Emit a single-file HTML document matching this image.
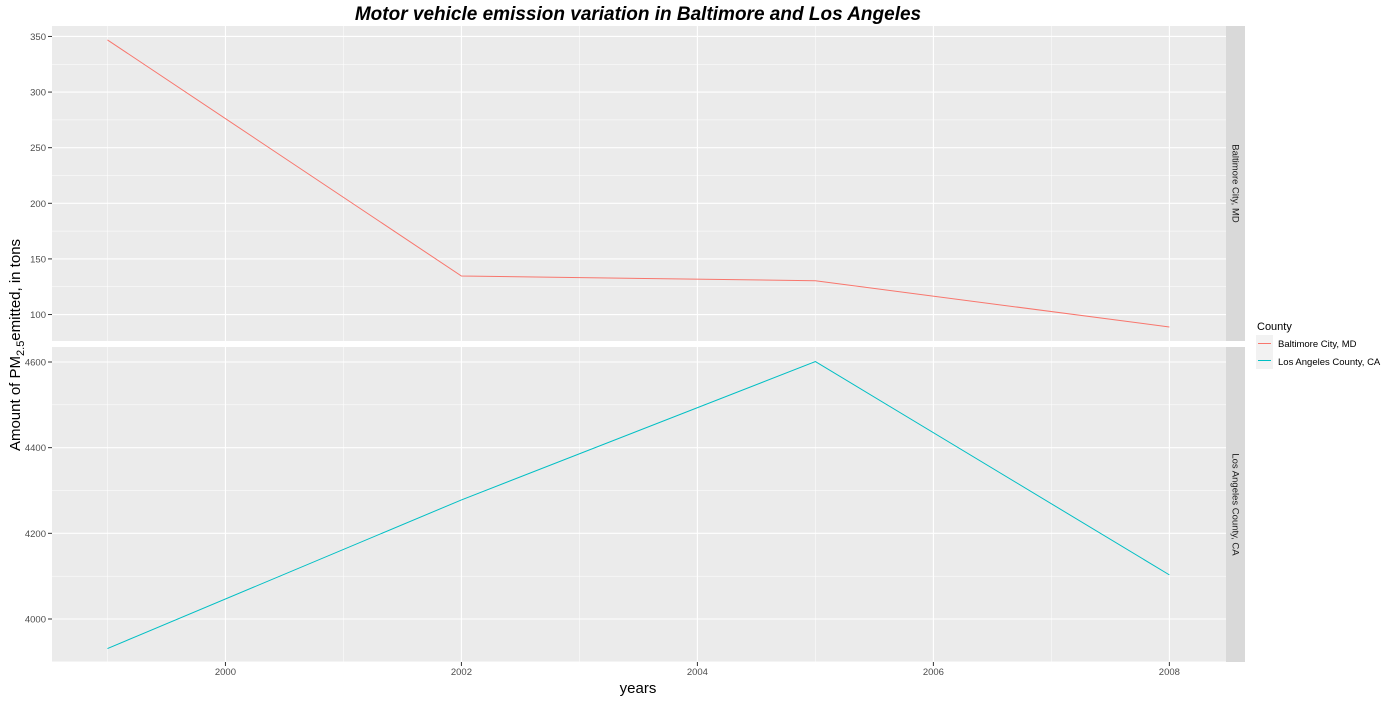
<!DOCTYPE html>
<html><head><meta charset="utf-8"><style>
body{margin:0;background:#fff;font-family:"Liberation Sans",sans-serif}
svg text{font-family:"Liberation Sans",sans-serif}
</style></head><body>
<svg id="c" width="1400" height="700">
<text x="638" y="20" text-anchor="middle" font-size="19" font-weight="bold" font-style="italic">Motor vehicle emission variation in Baltimore and Los Angeles</text>
<text x="638" y="693" text-anchor="middle" font-size="15" fill="#000">years</text>
<text transform="translate(20,345) rotate(-90)" text-anchor="middle" font-size="15">Amount of PM<tspan font-size="11" dy="4">2.5</tspan><tspan dy="-4">emitted, in tons</tspan></text>
<g id="legend">
<text x="1257" y="330" font-size="11">County</text>
<rect x="1256" y="335" width="17" height="17" fill="#f2f2f2"/>
<line x1="1258" y1="343.5" x2="1271" y2="343.5" stroke="#F8766D" stroke-width="1"/>
<text x="1278" y="347" font-size="9.5">Baltimore City, MD</text>
<rect x="1256" y="352" width="17" height="17" fill="#f2f2f2"/>
<line x1="1258" y1="360.5" x2="1271" y2="360.5" stroke="#00BFC4" stroke-width="1"/>
<text x="1278" y="365" font-size="9.5">Los Angeles County, CA</text>
</g>
</svg>
<script>
const years=[1999,2002,2005,2008];
const baltimore=[346.9,134.6,130.4,88.8];
const losAngeles=[3931,4278,4601,4103];
const xTicks=[2000,2002,2004,2006,2008];
const topTicks=[100,150,200,250,300,350];
const botTicks=[4000,4200,4400,4600];
const NS='http://www.w3.org/2000/svg';
const svg=document.getElementById('c');
const L=52,R=1226;
const x=v=>L+(v-1998.53)/(2008.48-1998.53)*(R-L);
function el(t,a,p){const e=document.createElementNS(NS,t);for(const k in a)e.setAttribute(k,a[k]);(p||svg).appendChild(e);return e;}
const panels=[
 {name:'baltimore',top:26,bot:341,min:76.2,max:359.4,ticks:topTicks,step:25,data:baltimore,color:'#F8766D',label:'Baltimore City, MD'},
 {name:'los-angeles',top:347,bot:662,min:3899.6,max:4635,ticks:botTicks,step:100,data:losAngeles,color:'#00BFC4',label:'Los Angeles County, CA'}
];
panels.forEach(p=>{
 const y=v=>p.bot-(v-p.min)/(p.max-p.min)*(p.bot-p.top);
 const g=el('g',{});
 
 
 el('rect',{x:L,y:p.top,width:R-L,height:p.bot-p.top,fill:'#ebebeb'},g);
 for(let v=Math.ceil(p.min/p.step)*p.step;v<=p.max;v+=p.step){
  const major=p.ticks.includes(v);
  el('line',{x1:L,x2:R,y1:y(v),y2:y(v),stroke:'#fff','stroke-width':major?1.1:0.5},g);
 }
 for(let v=1999;v<=2008;v++){
  const major=xTicks.includes(v);
  el('line',{x1:x(v),x2:x(v),y1:p.top,y2:p.bot,stroke:'#fff','stroke-width':major?1.1:0.5},g);
 }
 p.ticks.forEach(v=>{
  el('line',{x1:L-4,x2:L,y1:y(v),y2:y(v),stroke:'#333'},g);
  const t=el('text',{x:L-6,y:y(v)+3.5,'text-anchor':'end','font-size':9.5,fill:'#4d4d4d'},g);
  t.textContent=v;
  
  
 });
 const pts=years.map((yr,i)=>x(yr)+','+y(p.data[i])).join(' ');
 const line=el('polyline',{points:pts,fill:'none',stroke:p.color,'stroke-width':1},g);
 
 
 el('rect',{x:R,y:p.top,width:19,height:p.bot-p.top,fill:'#d9d9d9'},g);
 const cx=R+9.5,cy=(p.top+p.bot)/2;
 const st=el('text',{transform:`translate(${cx-3},${cy}) rotate(90)`,'text-anchor':'middle','font-size':9.5,fill:'#1a1a1a'},g);
 st.textContent=p.label;
 
 
});
xTicks.forEach(v=>{
 el('line',{x1:x(v),x2:x(v),y1:662,y2:666,stroke:'#333'});
 const t=el('text',{x:x(v),y:675,'text-anchor':'middle','font-size':9.5,fill:'#4d4d4d'});
 t.textContent=v;
 
 
});
</script>
</body></html>
